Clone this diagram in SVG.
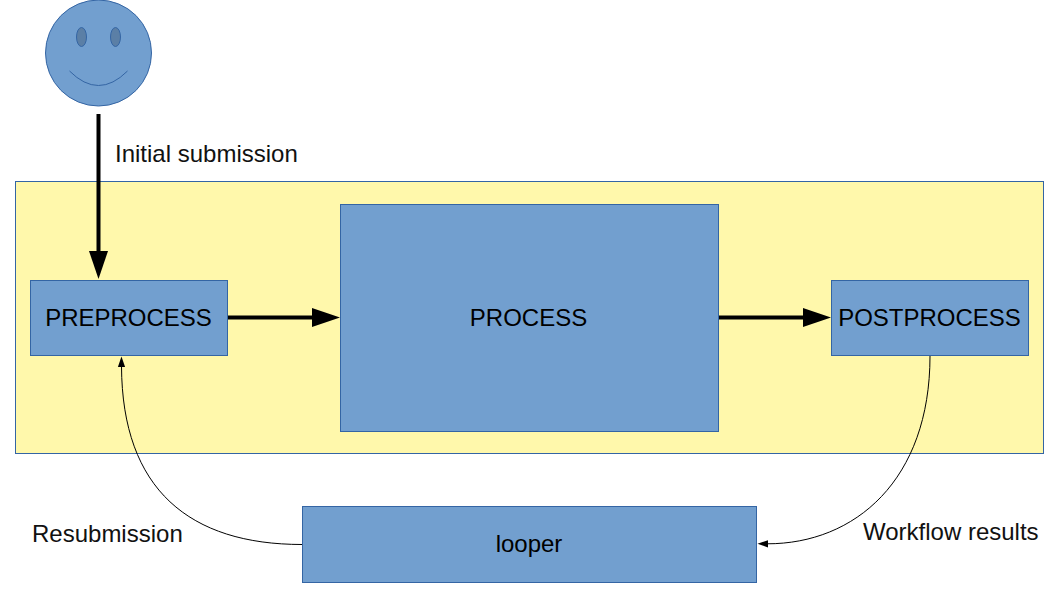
<svg xmlns="http://www.w3.org/2000/svg" width="1058" height="595" viewBox="0 0 1058 595">
<style>
.box{fill:#729fcf;stroke:#3465a4;stroke-width:1}
.face{fill:#729fcf;stroke:#3465a4;stroke-width:1}
.eye{fill:#5b7fa6;stroke:#3465a4;stroke-width:1}
text{font-family:"Liberation Sans",Arial,sans-serif;font-size:24px;fill:#000}
.lbl{fill:#111}
.c{fill:none;stroke:#000}
.thick{stroke-width:4}
.thin{stroke-width:1}
</style>
<defs>
<marker id="big" markerUnits="userSpaceOnUse" markerWidth="29" markerHeight="20" refX="1" refY="9.500" orient="auto"><polygon points="0,0 28,9.500 0,19" fill="#000"/></marker>
<marker id="small" markerUnits="userSpaceOnUse" markerWidth="11" markerHeight="8" refX="1" refY="4" orient="auto"><polygon points="0,0.400 10.500,4 0,7.600" fill="#000"/></marker>
</defs>
<g id="container"><rect x="15.500" y="181.500" width="1028" height="272" fill="#fff8ab" stroke="#3465a4"/></g>
<g id="user">
<circle class="face" cx="98.500" cy="53" r="53"/>
<ellipse class="eye" cx="81.500" cy="37" rx="5" ry="9.500"/>
<ellipse class="eye" cx="115.500" cy="37" rx="5" ry="9.500"/>
<path d="M69.500 71 Q98.500 100 127.500 71" fill="none" stroke="#3465a4"/>
</g>
<g id="preprocess"><rect class="box" x="30.500" y="280.500" width="197" height="75"/><text x="128.500" y="326" text-anchor="middle">PREPROCESS</text></g>
<g id="process"><rect class="box" x="340.500" y="204.500" width="378" height="227"/><text x="528.500" y="326" text-anchor="middle">PROCESS</text></g>
<g id="postprocess"><rect class="box" x="831.500" y="280.500" width="197" height="75"/><text x="929.500" y="326" text-anchor="middle">POSTPROCESS</text></g>
<g id="looper"><rect class="box" x="302.500" y="506.500" width="454" height="76"/><text x="529" y="552" text-anchor="middle">looper</text></g>
<g id="connectors">
<path class="c thick" d="M98.500 114V252" marker-end="url(#big)"/>
<path class="c thick" d="M228 317.500H313" marker-end="url(#big)"/>
<path class="c thick" d="M719 317.500H804" marker-end="url(#big)"/>
<path class="c thin" d="M930 356C930 480 855 544 767 543.800" marker-end="url(#small)"/>
<path class="c thin" d="M302 544.500C190 544.500 122 490 121.500 366" marker-end="url(#small)"/>
</g>
<g id="labels">
<text class="lbl" x="115" y="162">Initial submission</text>
<text class="lbl" x="32" y="542">Resubmission</text>
<text class="lbl" x="863" y="540">Workflow results</text>
</g>
</svg>
